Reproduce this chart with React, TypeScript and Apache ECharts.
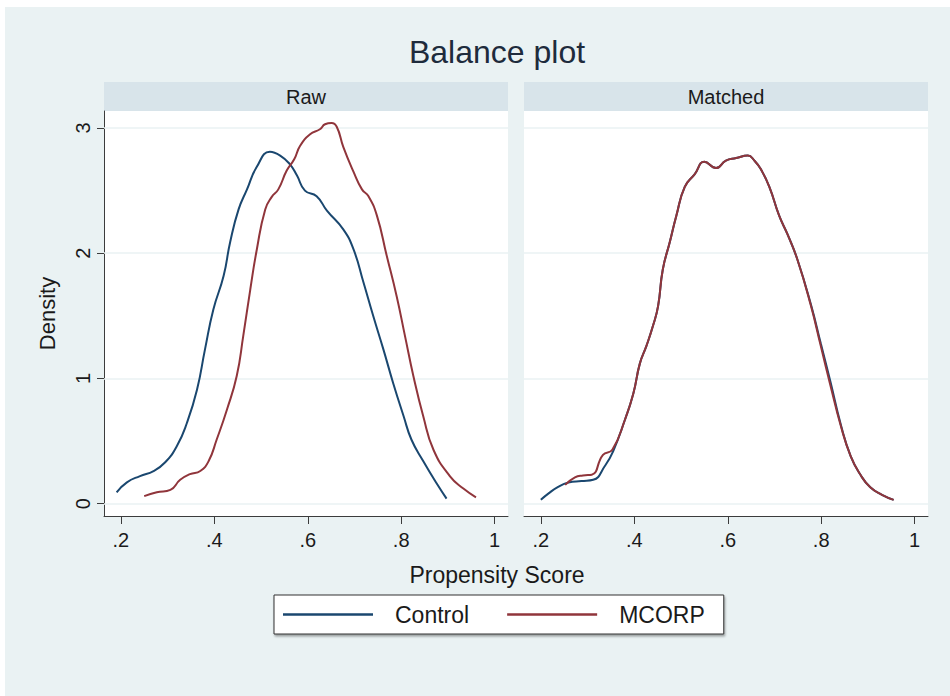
import React, { useEffect, useRef } from "react";
import * as echarts from "echarts";

const xTicks = [0.2, 0.4, 0.6, 0.8, 1];
const yTicks = [0, 1, 2, 3];
const panels = ["Raw", "Matched"];
const groups = ["Control", "MCORP"];
const chartTitle = "Balance plot";
const xTitle = "Propensity Score";
const yTitle = "Density";

// Raw panel
const rawControlX = [0.191, 0.213, 0.241, 0.27, 0.295, 0.32, 0.341, 0.363, 0.38, 0.398, 0.42, 0.434, 0.452, 0.47, 0.491, 0.519, 0.541, 0.562, 0.577, 0.594, 0.619, 0.641, 0.676, 0.698, 0.719, 0.74, 0.762, 0.783, 0.805, 0.822, 0.847, 0.876, 0.897];
const rawControlY = [0.09, 0.17, 0.22, 0.26, 0.33, 0.46, 0.64, 0.91, 1.23, 1.55, 1.82, 2.09, 2.35, 2.51, 2.69, 2.81, 2.78, 2.71, 2.62, 2.5, 2.455, 2.34, 2.19, 2.03, 1.77, 1.5, 1.23, 0.96, 0.7, 0.51, 0.34, 0.16, 0.04];
const rawMcorpX = [0.25, 0.277, 0.306, 0.327, 0.348, 0.37, 0.388, 0.405, 0.427, 0.448, 0.462, 0.477, 0.491, 0.509, 0.523, 0.537, 0.555, 0.571, 0.584, 0.605, 0.626, 0.637, 0.651, 0.662, 0.676, 0.698, 0.716, 0.73, 0.748, 0.769, 0.79, 0.808, 0.826, 0.847, 0.869, 0.904, 0.933, 0.96];
const rawMcorpY = [0.06, 0.09, 0.11, 0.19, 0.235, 0.26, 0.34, 0.51, 0.75, 1.02, 1.34, 1.71, 2.03, 2.35, 2.45, 2.51, 2.66, 2.75, 2.86, 2.95, 2.99, 3.03, 3.04, 3.01, 2.85, 2.65, 2.51, 2.455, 2.3, 1.98, 1.66, 1.34, 1.02, 0.7, 0.43, 0.22, 0.12, 0.05];

// Matched panel
const matchedControlX = [0.2, 0.216, 0.238, 0.259, 0.287, 0.312, 0.337, 0.355, 0.38, 0.398, 0.412, 0.426, 0.44, 0.451, 0.461, 0.476, 0.49, 0.508, 0.529, 0.55, 0.575, 0.596, 0.618, 0.643, 0.657, 0.671, 0.689, 0.71, 0.728, 0.749, 0.778, 0.799, 0.82, 0.842, 0.863, 0.884, 0.905, 0.93, 0.955];
const matchedControlY = [0.03, 0.08, 0.136, 0.168, 0.18, 0.19, 0.3, 0.42, 0.67, 0.88, 1.12, 1.26, 1.42, 1.58, 1.87, 2.09, 2.3, 2.53, 2.63, 2.73, 2.68, 2.74, 2.76, 2.78, 2.74, 2.67, 2.53, 2.3, 2.15, 1.95, 1.59, 1.28, 0.97, 0.63, 0.38, 0.23, 0.13, 0.07, 0.03];
const matchedMcorpX = [0.252, 0.273, 0.29, 0.309, 0.333, 0.353, 0.38, 0.398, 0.412, 0.426, 0.44, 0.451, 0.461, 0.476, 0.49, 0.508, 0.529, 0.55, 0.575, 0.596, 0.618, 0.643, 0.657, 0.671, 0.689, 0.71, 0.728, 0.749, 0.778, 0.799, 0.82, 0.842, 0.863, 0.884, 0.905, 0.93, 0.955];
const matchedMcorpY = [0.15, 0.21, 0.225, 0.23, 0.39, 0.43, 0.67, 0.88, 1.12, 1.26, 1.42, 1.58, 1.87, 2.09, 2.3, 2.53, 2.63, 2.73, 2.68, 2.74, 2.76, 2.78, 2.74, 2.67, 2.53, 2.3, 2.15, 1.95, 1.58, 1.26, 0.94, 0.62, 0.38, 0.23, 0.13, 0.07, 0.03];

const zip = (xs: number[], ys: number[]) => xs.map((x, i) => [x, ys[i]]);

const FONT = 'Arial, "Liberation Sans", sans-serif';
const NAVY = "#1A476F";
const MAROON = "#90353B";
const BG = "#EAF2F3";
const STRIP = "#D8E4EA";
const INK = "#1a1a1a";
const AXIS = "#3c3c3c";

const X_MIN = 0.164;
const X_MAX = 1.0285;
const Y_MIN = -0.099;
const Y_MAX = 3.136;

const gridRects = [
  { left: 104, top: 111, width: 404, height: 405 },
  { left: 524, top: 111, width: 404, height: 405 },
];

export default function App() {
  const ref = useRef<HTMLDivElement>(null);
  useEffect(() => {
    if (!ref.current) return;
    const chart = echarts.init(ref.current, undefined, { renderer: "svg" });

    const fmt = (v: number) => String(v).replace(/^0\./, ".");

    const xAxes = gridRects.map((_, i) => ({
      gridIndex: i,
      type: "value",
      min: X_MIN,
      max: X_MAX,
      axisLine: { show: true, onZero: false, lineStyle: { color: AXIS, width: 1 } },
      axisTick: { show: true, length: 8, customValues: xTicks, lineStyle: { color: AXIS, width: 1 } },
      axisLabel: { customValues: xTicks, formatter: fmt, fontSize: 20, margin: 14, color: INK, fontFamily: FONT },
      splitLine: { show: false },
    }));

    const yAxes = gridRects.map((_, i) => ({
      gridIndex: i,
      type: "value",
      min: Y_MIN,
      max: Y_MAX,
      name: i === 0 ? yTitle : "",
      nameLocation: "middle",
      nameGap: 46,
      nameRotate: 90,
      nameTextStyle: { fontSize: 22, color: INK, fontFamily: FONT },
      axisLine: { show: i === 0, onZero: false, lineStyle: { color: AXIS, width: 1 } },
      axisTick: { show: i === 0, length: 7, customValues: yTicks, lineStyle: { color: AXIS, width: 1 } },
      axisLabel: { show: i === 0, customValues: yTicks, rotate: 90, fontSize: 20, margin: 11, color: INK, fontFamily: FONT },
      splitLine: { show: false },
    }));

    const gridMarkLine = {
      silent: true,
      symbol: "none",
      z: 1,
      label: { show: false },
      emphasis: { disabled: true },
      lineStyle: { color: BG, width: 1.5, type: "solid" },
      data: yTicks.map((v) => ({ yAxis: v })),
    };

    const lineSeries = (name: string, idx: number, data: number[][], color: string, withGrid: boolean) => ({
      name,
      type: "line",
      xAxisIndex: idx,
      yAxisIndex: idx,
      data,
      symbol: "none",
      showSymbol: false,
      smooth: 0.5,
      z: name === "MCORP" ? 4 : 3,
      lineStyle: { color, width: 2 },
      itemStyle: { color },
      emphasis: { disabled: true },
      markLine: withGrid ? gridMarkLine : undefined,
    });

    const option: any = {
      animation: false,
      backgroundColor: BG,
      textStyle: { fontFamily: FONT },
      grid: gridRects.map((g) => ({ ...g, show: true, backgroundColor: "#ffffff", borderWidth: 0, containLabel: false })),
      xAxis: xAxes,
      yAxis: yAxes,
      legend: {
        left: 274,
        top: 595,
        orient: "horizontal",
        padding: [8, 19, 8, 9],
        icon: "rect",
        itemWidth: 90,
        itemHeight: 2.5,
        itemGap: 38,
        borderColor: "#333333",
        borderWidth: 1,
        backgroundColor: "#ffffff",
        shadowColor: "rgba(0,0,0,0.35)",
        shadowBlur: 2,
        shadowOffsetX: 1,
        shadowOffsetY: 2,
        selectedMode: false,
        data: groups,
        textStyle: { fontSize: 23, color: INK, fontFamily: FONT, padding: [0, 0, 0, 17] },
      },
      graphic: [
        { type: "rect", shape: { x: 0, y: 0, width: 950, height: 7 }, style: { fill: "#ffffff" }, silent: true },
        { type: "rect", shape: { x: 0, y: 0, width: 5, height: 696 }, style: { fill: "#ffffff" }, silent: true },
        {
          type: "text",
          x: 497,
          y: 52,
          style: { text: chartTitle, fontSize: 32, fill: "#1E2B3C", fontFamily: FONT, textAlign: "center", textVerticalAlign: "middle" },
        },
        ...gridRects.flatMap((g, i) => [
          { type: "rect", shape: { x: g.left, y: 82, width: g.width, height: 29 }, style: { fill: STRIP }, silent: true },
          {
            type: "text",
            x: g.left + g.width / 2,
            y: 97,
            style: { text: panels[i], fontSize: 20, fill: INK, fontFamily: FONT, textAlign: "center", textVerticalAlign: "middle" },
          },
        ]),
        {
          type: "text",
          x: 497,
          y: 575,
          style: { text: xTitle, fontSize: 23, fill: INK, fontFamily: FONT, textAlign: "center", textVerticalAlign: "middle" },
        },
      ],
      series: [
        lineSeries(groups[0], 0, zip(rawControlX, rawControlY), NAVY, true),
        lineSeries(groups[1], 0, zip(rawMcorpX, rawMcorpY), MAROON, false),
        lineSeries(groups[0], 1, zip(matchedControlX, matchedControlY), NAVY, true),
        lineSeries(groups[1], 1, zip(matchedMcorpX, matchedMcorpY), MAROON, false),
      ],
    };

    chart.setOption(option);
    return () => chart.dispose();
  }, []);

  return (
    <div
      ref={ref}
      style={{ position: "absolute", left: 0, top: 0, width: 950, height: 696 }}
    />
  );
}
